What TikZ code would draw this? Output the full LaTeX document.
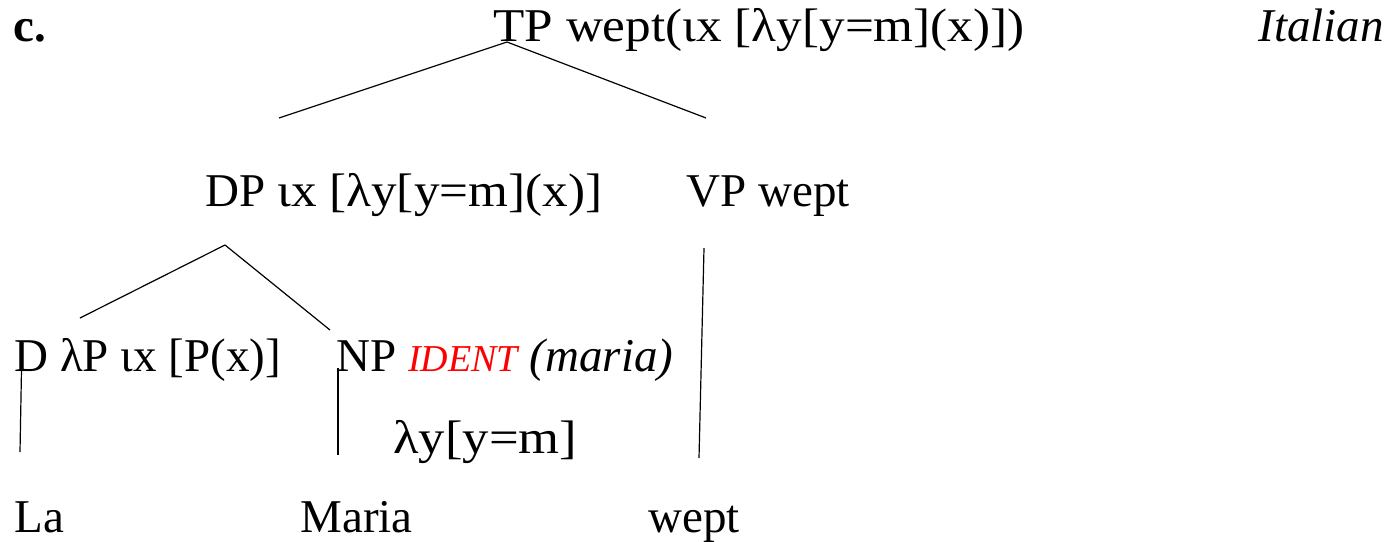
\documentclass[tikz,border=0pt]{standalone}
\usepackage{fontspec}
\setmainfont{Liberation Serif}
\newfontfamily\widerm[FakeStretch=1.09]{Liberation Serif}
\newfontfamily\widerrm[FakeStretch=1.12]{Liberation Serif}
\usetikzlibrary{positioning}

\begin{document}
\begin{tikzpicture}[x=0.5pt,y=-0.5pt,
  lbl/.style={anchor=base west,inner sep=0pt,font=\fontsize{23.5}{28}\selectfont}]
\useasboundingbox (0,0) rectangle (1390,541);

\node[lbl,font=\fontsize{23.5}{28}\selectfont\bfseries] (ex) at (13,41) {c.};
\node[lbl,font=\fontsize{23.5}{28}\widerm] (tp) at (493,41) {TP wept(ιx [λy[y=m](x)])};
\node[lbl,font=\fontsize{23.5}{28}\selectfont\itshape] (lang) at (1258,41) {Italian};

\node[lbl] (dp) at (205,206) {DP {\widerm ιx [λy[y=m](x)]}};
\node[lbl] (vp) at (686,206) {VP wept};

\node[lbl] (d) at (14,371) {D λP ιx [P(x)]};
\node[lbl] (np) at (336,371) {NP \textcolor{red}{\fontsize{19}{23}\selectfont\itshape IDENT} \textit{(maria)}};
\node[lbl,font=\fontsize{23.5}{28}\widerrm] (npsem) at (393,453) {λy[y=m]};

\node[lbl] (la) at (14,532) {La};
\node[lbl] (maria) at (300,532) {Maria};
\node[lbl] (wept) at (648,532) {wept};

% branch ends
\coordinate (tp_top) at (507,42);
\coordinate (tp_l) at (279,118);
\coordinate (tp_r) at (706,118);
\coordinate (dp_top) at (225,245);
\coordinate (dp_l) at (80,318);
\coordinate (dp_r) at (330,330);
\coordinate (vp_top) at (704,248);
\coordinate (vp_bot) at (699,458);
\coordinate (d_top) at (22,342);
\coordinate (d_bot) at (20,452);
\coordinate (np_top) at (338,368);
\coordinate (np_bot) at (338,455);

\path[-,line width=0.6pt] (tp_top) edge (tp_l)
                                   edge (tp_r)
                          (dp_top) edge (dp_l)
                                   edge (dp_r)
                          (vp_top) edge (vp_bot)
                          (d_top) edge (d_bot)
                          (np_top) edge (np_bot);
\end{tikzpicture}
\end{document}
